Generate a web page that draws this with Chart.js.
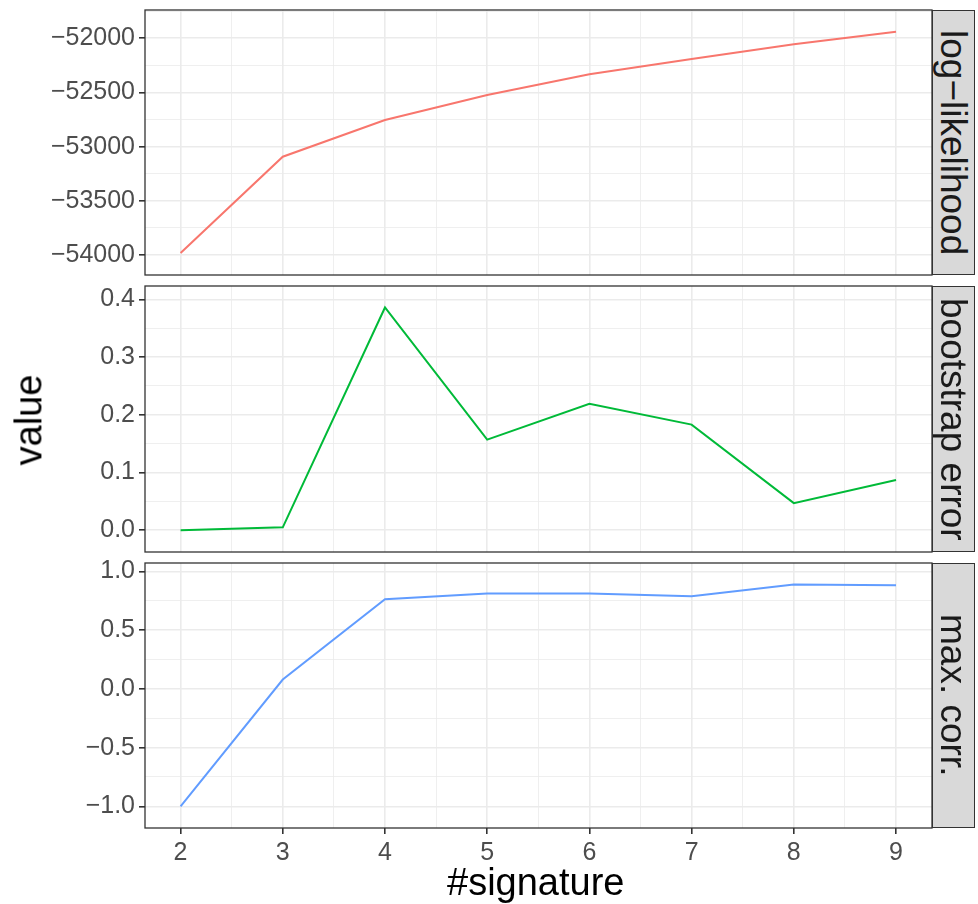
<!DOCTYPE html>
<html>
<head>
<meta charset="utf-8">
<script src="https://cdn.jsdelivr.net/npm/chart.js@4.4.0/dist/chart.umd.min.js"></script>
<style>
body { margin: 0; background: #fff; font-family: "Liberation Sans", Arial, sans-serif; }
#wrap { position: relative; width: 978px; height: 904px; overflow: hidden; }
canvas { position: absolute; left: 0; }
.strip { position: absolute; left: 932px; width: 43px; background: #d9d9d9; border: 1.3px solid #333; box-sizing: border-box;
  display: flex; align-items: center; justify-content: center; }
.strip span { writing-mode: vertical-rl; font-size: 37px; color: #1a1a1a; white-space: nowrap; line-height: 1; }
.title { position: absolute; font-size: 38px; color: #000; white-space: nowrap; line-height: 1; }
</style>
</head>
<body>
<div id="wrap">
  <canvas id="c1" width="978" height="280" style="top:0px"></canvas>
  <canvas id="c2" width="978" height="277" style="top:280px"></canvas>
  <canvas id="c3" width="978" height="347" style="top:557px"></canvas>
  <div class="strip" style="top:10px;height:265px"><span>log−likelihood</span></div>
  <div class="strip" style="top:286px;height:266px"><span>bootstrap error</span></div>
  <div class="strip" style="top:563px;height:265px"><span>max. corr.</span></div>
  <div class="title" style="left:-17px;top:401px;transform:rotate(-90deg);transform-origin:center;">value</div>
  <div class="title" style="left:447px;top:863px;">#signature</div>
</div>
<script>
// x values
const signatures = [2, 3, 4, 5, 6, 7, 8, 9]

// series values
const logLik = [-53981, -53093, -52754, -52523, -52332, -52191, -52055, -51939]
const bootErr = [0.000, 0.005, 0.386, 0.157, 0.219, 0.183, 0.047, 0.087]
const maxCorr = [-1.000, 0.079, 0.763, 0.811, 0.811, 0.788, 0.888, 0.882]

// tick values
const xTicks = [2, 3, 4, 5, 6, 7, 8, 9]
const logLikTicks = [-54000, -53500, -53000, -52500, -52000]
const bootErrTicks = [0.0, 0.1, 0.2, 0.3, 0.4]
const maxCorrTicks = [-1.0, -0.5, 0.0, 0.5, 1.0]

const colors = ["#F8766D", "#00BA38", "#619CFF"]

// minor ticks sit halfway between majors (ggplot default)
function withMinor(major, min, max) {
  let step = major[1] - major[0]
  let out = []
  for (let v = major[0] - step; v <= major[major.length - 1] + step + 1e-9; v += step / 2) {
    let r = Math.round(v * 1e6) / 1e6
    if (r >= min && r <= max) out.push(r)
  }
  return out
}
function isMajor(list, v) {
  return list.some(t => Math.abs(t - v) < 1e-6)
}
function fmt(v, dec) {
  let s = Math.abs(v).toFixed(dec)
  return (v < -1e-9 ? "\u2212" : "") + s
}

const panelBorder = {
  id: "panelBorder",
  afterDraw(chart) {
    let a = chart.chartArea, ctx = chart.ctx
    ctx.save()
    ctx.strokeStyle = "#333333"
    ctx.lineWidth = 1.3
    ctx.strokeRect(a.left, a.top, a.right - a.left, a.bottom - a.top)
    ctx.restore()
  }
}

const xMin = 1.652, xMax = 9.352

function makePanel(id, values, color, yTicks, yMin, yMax, dec, pad, bottomAxis) {
  let xAll = withMinor(xTicks, xMin, xMax)
  let yAll = withMinor(yTicks, yMin, yMax)
  let grid = (list) => ({
    color: "#EBEBEB",
    lineWidth: c => isMajor(list, c.tick.value) ? 1.6 : 0.8,
    tickColor: c => isMajor(list, c.tick.value) ? "#333333" : "rgba(0,0,0,0)",
    tickLength: 6
  })
  new Chart(document.getElementById(id), {
    type: "line",
    data: {
      datasets: [{
        data: signatures.map((s, i) => ({ x: s, y: values[i] })),
        borderColor: color,
        borderWidth: 2,
        pointRadius: 0,
        tension: 0,
        fill: false
      }]
    },
    options: {
      responsive: false,
      animation: false,
      events: [],
      layout: { padding: { top: pad[0], right: 46, bottom: pad[1], left: 0 } },
      plugins: { legend: { display: false }, tooltip: { enabled: false } },
      scales: {
        x: {
          type: "linear",
          min: xMin, max: xMax,
          afterBuildTicks: s => { s.ticks = xAll.map(v => ({ value: v })) },
          afterFit: s => { s.height = bottomAxis ? 76 : 0; s.paddingLeft = 0; s.paddingRight = 0 },
          grid: Object.assign(grid(xTicks), { drawTicks: bottomAxis }),
          border: { display: false },
          ticks: {
            display: bottomAxis,
            autoSkip: false,
            maxRotation: 0,
            padding: 4,
            color: "#4D4D4D",
            font: { family: "Liberation Sans", size: 25 },
            callback: v => isMajor(xTicks, v) ? String(v) : ""
          }
        },
        y: {
          type: "linear",
          min: yMin, max: yMax,
          afterBuildTicks: s => { s.ticks = yAll.map(v => ({ value: v })) },
          afterFit: s => { s.width = 145; s.paddingTop = 0; s.paddingBottom = 0 },
          grid: grid(yTicks),
          border: { display: false },
          ticks: {
            autoSkip: false,
            padding: 4,
            color: "#4D4D4D",
            font: { family: "Liberation Sans", size: 25 },
            callback: v => isMajor(yTicks, v) ? fmt(v, dec) : ""
          }
        }
      }
    },
    plugins: [panelBorder]
  })
}

makePanel("c1", logLik, colors[0], logLikTicks, -54185, -51739, 0, [10, 5], false)
makePanel("c2", bootErr, colors[1], bootErrTicks, -0.0377, 0.4232, 1, [6, 5], false)
makePanel("c3", maxCorr, colors[2], maxCorrTicks, -1.184, 1.071, 1, [6, 0], true)
</script>
</body>
</html>
